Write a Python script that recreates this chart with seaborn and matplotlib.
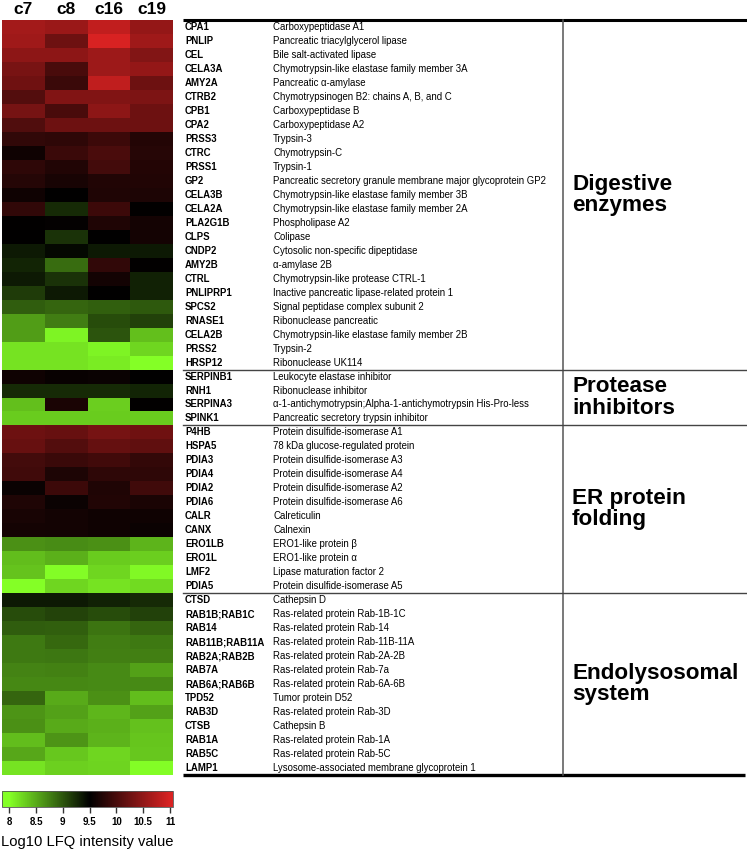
import numpy as np
import pandas as pd
import seaborn as sns
import matplotlib.pyplot as plt
from matplotlib.colors import LinearSegmentedColormap

samples = ["c7", "c8", "c16", "c19"]

genes = ["CPA1", "PNLIP", "CEL", "CELA3A", "AMY2A", "CTRB2", "CPB1", "CPA2", "PRSS3", "CTRC",
         "PRSS1", "GP2", "CELA3B", "CELA2A", "PLA2G1B", "CLPS", "CNDP2", "AMY2B", "CTRL",
         "PNLIPRP1", "SPCS2", "RNASE1", "CELA2B", "PRSS2", "HRSP12",
         "SERPINB1", "RNH1", "SERPINA3", "SPINK1",
         "P4HB", "HSPA5", "PDIA3", "PDIA4", "PDIA2", "PDIA6", "CALR", "CANX", "ERO1LB",
         "ERO1L", "LMF2", "PDIA5",
         "CTSD", "RAB1B;RAB1C", "RAB14", "RAB11B;RAB11A", "RAB2A;RAB2B", "RAB7A",
         "RAB6A;RAB6B", "TPD52", "RAB3D", "CTSB", "RAB1A", "RAB5C", "LAMP1"]

descriptions = [
    "Carboxypeptidase A1", "Pancreatic triacylglycerol lipase", "Bile salt-activated lipase",
    "Chymotrypsin-like elastase family member 3A", "Pancreatic α-amylase",
    "Chymotrypsinogen B2: chains A, B, and C", "Carboxypeptidase B", "Carboxypeptidase A2",
    "Trypsin-3", "Chymotrypsin-C", "Trypsin-1",
    "Pancreatic secretory granule membrane major glycoprotein GP2",
    "Chymotrypsin-like elastase family member 3B", "Chymotrypsin-like elastase family member 2A",
    "Phospholipase A2", "Colipase", "Cytosolic non-specific dipeptidase", "α-amylase 2B",
    "Chymotrypsin-like protease CTRL-1", "Inactive pancreatic lipase-related protein 1",
    "Signal peptidase complex subunit 2", "Ribonuclease pancreatic",
    "Chymotrypsin-like elastase family member 2B", "Trypsin-2", "Ribonuclease UK114",
    "Leukocyte elastase inhibitor", "Ribonuclease inhibitor",
    "α-1-antichymotrypsin;Alpha-1-antichymotrypsin His-Pro-less",
    "Pancreatic secretory trypsin inhibitor",
    "Protein disulfide-isomerase A1", "78 kDa glucose-regulated protein",
    "Protein disulfide-isomerase A3", "Protein disulfide-isomerase A4",
    "Protein disulfide-isomerase A2", "Protein disulfide-isomerase A6", "Calreticulin",
    "Calnexin", "ERO1-like protein β", "ERO1-like protein α", "Lipase maturation factor 2",
    "Protein disulfide-isomerase A5",
    "Cathepsin D", "Ras-related protein Rab-1B-1C", "Ras-related protein Rab-14",
    "Ras-related protein Rab-11B-11A", "Ras-related protein Rab-2A-2B",
    "Ras-related protein Rab-7a", "Ras-related protein Rab-6A-6B", "Tumor protein D52",
    "Ras-related protein Rab-3D", "Cathepsin B", "Ras-related protein Rab-1A",
    "Ras-related protein Rab-5C", "Lysosome-associated membrane glycoprotein 1"]

groups = ["Digestive\nenzymes", "Protease\ninhibitors", "ER protein\nfolding", "Endolysosomal\nsystem"]
group_sizes = [25, 4, 12, 13]

# log10 LFQ intensities
c7 = [10.63, 10.6, 10.48, 10.33, 10.26, 10.08, 10.31, 10.05, 9.84, 9.6,
      9.81, 9.75, 9.6, 9.84, 9.52, 9.5, 9.35, 9.29, 9.36, 9.15,
      8.96, 8.58, 8.58, 8.17, 8.17,
      9.6, 9.25, 8.38, 8.31,
      10.25, 10.21, 9.97, 9.94, 9.57, 9.72, 9.67, 9.64, 8.65, 8.39, 8.36, 8.0,
      9.35, 9.05, 8.95, 8.79, 8.79, 8.73, 8.71, 8.9, 8.63, 8.65, 8.4, 8.52, 8.17]
c8 = [10.56, 10.25, 10.48, 10.0, 9.9, 10.39, 10.0, 10.25, 9.81, 9.9,
      9.73, 9.66, 9.5, 9.25, 9.53, 9.21, 9.45, 8.87, 9.21, 9.35,
      8.9, 8.77, 8.07, 8.17, 8.17,
      9.55, 9.25, 9.68, 8.31,
      10.21, 10.08, 9.9, 9.7, 9.92, 9.58, 9.63, 9.63, 8.68, 8.47, 8.02, 8.24,
      9.36, 9.1, 8.94, 8.89, 8.81, 8.74, 8.71, 8.51, 8.56, 8.51, 8.63, 8.33, 8.28]
c16 = [10.84, 11.0, 10.59, 10.59, 10.83, 10.39, 10.48, 10.25, 9.92, 10.02,
       9.97, 9.73, 9.72, 9.92, 9.72, 9.5, 9.35, 9.84, 9.63, 9.5,
       8.94, 9.06, 9.0, 8.07, 8.12,
       9.56, 9.25, 8.29, 8.31,
       10.32, 10.2, 9.95, 9.81, 9.72, 9.73, 9.6, 9.6, 8.65, 8.31, 8.24, 8.17,
       9.31, 9.06, 8.82, 8.77, 8.76, 8.69, 8.69, 8.65, 8.43, 8.47, 8.44, 8.24, 8.26]
c19 = [10.53, 10.6, 10.4, 10.52, 10.25, 10.36, 10.25, 10.25, 9.74, 9.77,
       9.74, 9.73, 9.7, 9.52, 9.64, 9.64, 9.35, 9.52, 9.31, 9.31,
       8.98, 9.12, 8.38, 8.25, 8.0,
       9.5, 9.29, 9.52, 8.31,
       10.26, 10.17, 9.85, 9.81, 9.94, 9.68, 9.6, 9.58, 8.45, 8.29, 8.05, 8.22,
       9.25, 9.12, 8.9, 8.79, 8.76, 8.56, 8.69, 8.4, 8.56, 8.37, 8.35, 8.33, 8.02]

cbar_ticks = [8, 8.5, 9, 9.5, 10, 10.5, 11]


def main():
    plt.rcParams['font.family'] = ['Liberation Sans', 'DejaVu Sans']
    df = pd.DataFrame({"c7": c7, "c8": c8, "c16": c16, "c19": c19}, index=genes)[samples]

    # green at 8, black at 9.5, red at 11; the bar runs a little past both ends
    vmin, vmax = 7.864, 11.056
    pos = lambda v: (v - vmin) / (vmax - vmin)
    cmap = LinearSegmentedColormap.from_list(
        "gkr", [(0, "#84ff26"), (pos(8), "#84ff26"), (pos(9.5), "#000000"),
                (pos(11), "#d82222"), (1, "#d82222")])

    W, H = 747, 849
    fig = plt.figure(figsize=(W / 100, H / 100), dpi=100)

    def box(x0, y0, x1, y1):
        return [x0 / W, 1 - y1 / H, (x1 - x0) / W, (y1 - y0) / H]

    ax = fig.add_axes(box(2, 20, 173, 775))
    cax = fig.add_axes(box(2, 791, 173, 807))
    tab = fig.add_axes(box(183, 20, 747, 775))

    sns.heatmap(df, ax=ax, cmap=cmap, vmin=vmin, vmax=vmax, cbar_ax=cax,
                cbar_kws=dict(orientation="horizontal", ticks=cbar_ticks),
                xticklabels=True, yticklabels=False)
    ax.xaxis.tick_top()
    ax.tick_params(axis="x", length=0, pad=2)
    for t in ax.get_xticklabels():
        t.set_fontsize(12.5)
        t.set_fontweight("bold")
        t.set_rotation(0)
    ax.set_xlabel("")
    ax.set_ylabel("")

    cb = ax.collections[0].colorbar
    cb.outline.set_linewidth(0.6)
    cb.outline.set_edgecolor("#555555")
    cax.tick_params(axis="x", length=4, width=1, color="#333333", pad=3)
    cax.set_xticklabels([f"{v:g}" for v in cbar_ticks], fontsize=7, fontweight="bold")
    cax.set_xlabel("Log10 LFQ intensity value", fontsize=10.6, labelpad=6)

    # annotation table
    n = len(genes)
    tab.set_xlim(183, 747)
    tab.set_ylim(n, 0)
    tab.axis("off")
    for i, (g, d) in enumerate(zip(genes, descriptions)):
        tab.text(185, i + 0.5, g, fontsize=6.9, fontweight="bold", va="center", ha="left")
        tab.text(273, i + 0.5, d, fontsize=6.9, va="center", ha="left")

    tab.plot([183, 747], [0, 0], color="black", lw=2.2, solid_capstyle="butt", clip_on=False)
    tab.plot([183, 745], [n, n], color="black", lw=2.4, solid_capstyle="butt", clip_on=False)
    tab.plot([563, 563], [0, n], color="#555555", lw=1.1, clip_on=False)

    start = 0
    for k, (label, size) in enumerate(zip(groups, group_sizes)):
        if k > 0:
            tab.plot([183, 747], [start, start], color="#444444", lw=1.0, clip_on=False)
        tab.text(572, start + size / 2, label, fontsize=16.2, fontweight="bold",
                 va="center", ha="left", linespacing=1.0)
        start += size

    fig.savefig("out.png", dpi=100)


if __name__ == "__main__":
    main()
